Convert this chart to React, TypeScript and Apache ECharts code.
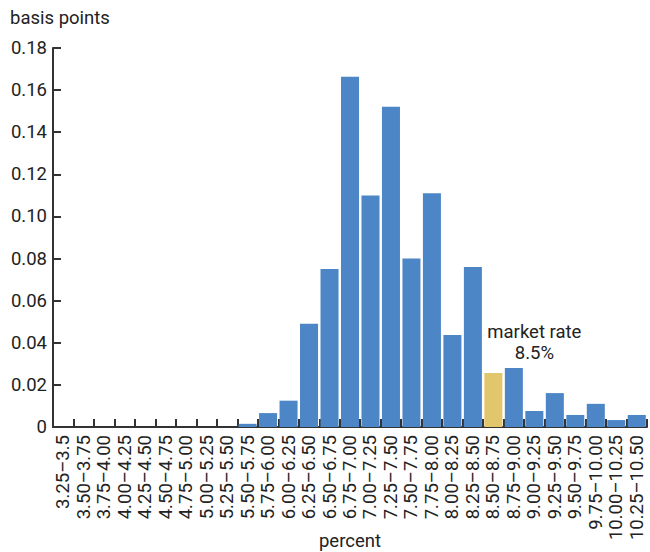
import React, { useEffect, useRef } from "react";
import * as echarts from "echarts";

const categories = [
  "3.25–3.5", "3.50–3.75", "3.75–4.00", "4.00–4.25", "4.25–4.50", "4.50–4.75",
  "4.75–5.00", "5.00–5.25", "5.25–5.50", "5.50–5.75", "5.75–6.00", "6.00–6.25",
  "6.25–6.50", "6.50–6.75", "6.75–7.00", "7.00–7.25", "7.25–7.50", "7.50–7.75",
  "7.75–8.00", "8.00–8.25", "8.25–8.50", "8.50–8.75", "8.75–9.00", "9.00–9.25",
  "9.25–9.50", "9.50–9.75", "9.75–10.00", "10.00–10.25", "10.25–10.50",
];
const values = [
  0, 0, 0, 0, 0, 0,
  0, 0, 0, 0.0015, 0.0066, 0.0125,
  0.049, 0.075, 0.1664, 0.110, 0.1521, 0.080,
  0.111, 0.0437, 0.076, 0.0256, 0.028, 0.0076,
  0.0161, 0.0057, 0.011, 0.0033, 0.0057,
];
const marketCategory = "8.50–8.75";
const annotationCategory = "9.00–9.25";
const annotationValue = 0.040;
const annotationText = "market rate\n8.5%";
const yTicks = { min: 0, max: 0.18, interval: 0.02 };

const BLUE = "#4d86c6";
const YELLOW = "#e2c66c";
const TEXT = "#222222";
const FONT = "Roboto";
const FS = 18.5;

export default function App() {
  const ref = useRef<HTMLDivElement>(null);
  useEffect(() => {
    if (!ref.current) return;
    const chart = echarts.init(ref.current, undefined, { renderer: "svg" });
    chart.setOption({
      animation: false,
      textStyle: { fontFamily: FONT },
      grid: { left: 53, right: 3, top: 48, bottom: 125, containLabel: false, outerBoundsMode: "none" },
      graphic: [
        {
          type: "text",
          left: 10,
          top: 8,
          style: { text: "basis points", fontSize: FS, fill: TEXT, fontFamily: FONT },
        },
        {
          type: "text",
          x: 350,
          y: 541,
          style: {
            text: "percent",
            fontSize: FS,
            fill: TEXT,
            fontFamily: FONT,
            align: "center",
            verticalAlign: "middle",
          },
        },
      ],
      xAxis: {
        type: "category",
        data: categories,
        axisLine: { show: true, lineStyle: { color: "#333", width: 2 } },
        axisTick: { show: true, inside: true, length: 8, lineStyle: { color: "#333", width: 2 } },
        axisLabel: {
          rotate: 90,
          interval: 0,
          fontSize: FS,
          color: TEXT,
          margin: 8,
          fontFamily: FONT,
        },
      },
      yAxis: {
        type: "value",
        min: yTicks.min,
        max: yTicks.max,
        interval: yTicks.interval,
        splitLine: { show: false },
        axisLine: { show: true, lineStyle: { color: "#333", width: 2 } },
        axisTick: { show: true, inside: true, length: 8, lineStyle: { color: "#333", width: 2 } },
        axisLabel: {
          fontSize: FS,
          color: TEXT,
          margin: 6,
          fontFamily: FONT,
          formatter: (v: number) => (v === 0 ? "0" : v.toFixed(2)),
        },
      },
      series: [
        {
          type: "bar",
          barCategoryGap: "12%",
          data: categories.map((c, i) => ({
            value: values[i],
            itemStyle: { color: c === marketCategory ? YELLOW : BLUE },
          })),
          markPoint: {
            symbol: "circle",
            symbolSize: 0,
            data: [{ coord: [annotationCategory, annotationValue] }],
            label: {
              show: true,
              position: "inside",
              formatter: annotationText,
              fontSize: FS,
              lineHeight: 21,
              color: TEXT,
              fontFamily: FONT,
              align: "center",
            },
          },
        },
      ],
    });
    return () => chart.dispose();
  }, []);
  return <div ref={ref} style={{ width: 650, height: 552, position: "absolute", left: 0, top: 0 }} />;
}
